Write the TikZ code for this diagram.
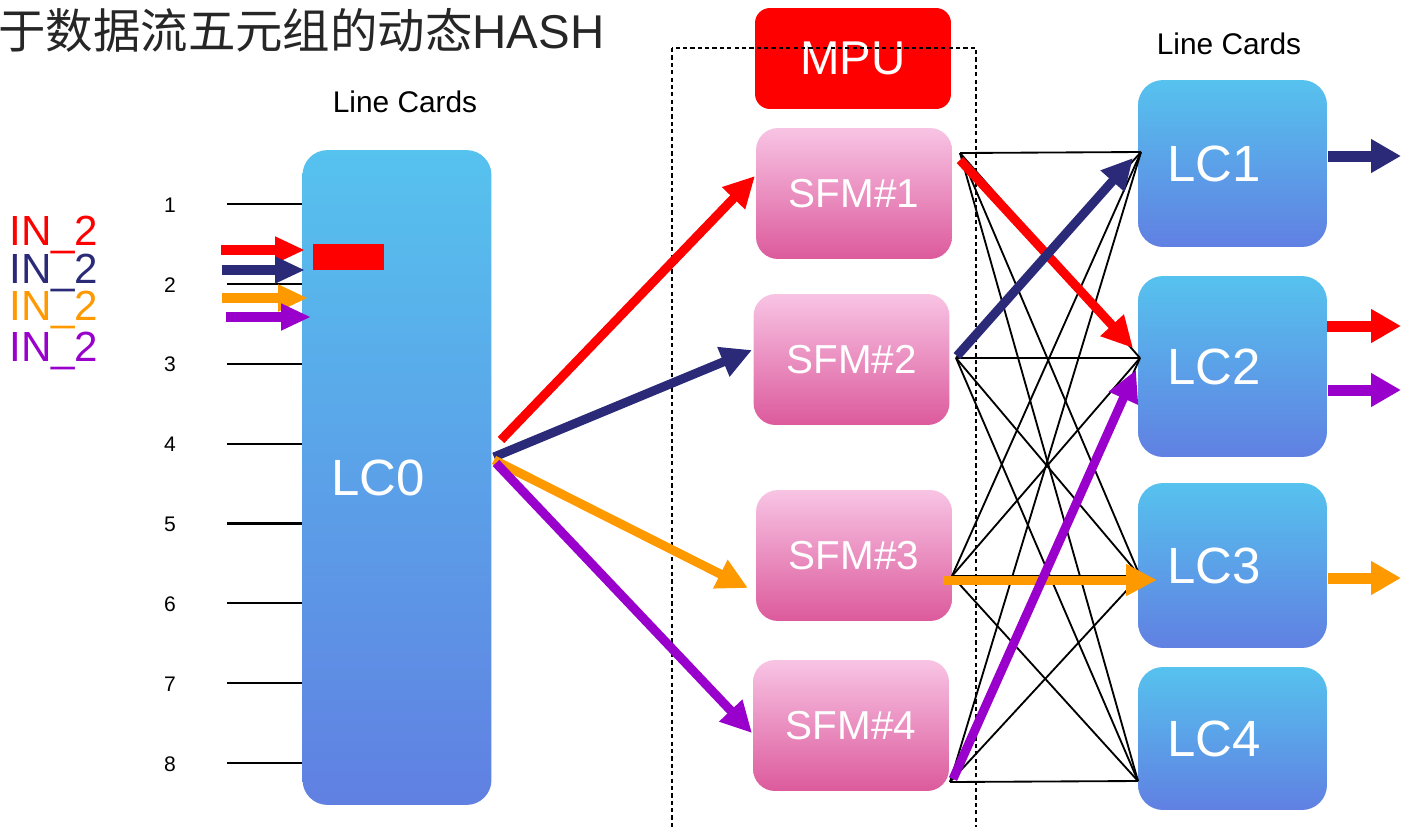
\documentclass[tikz,border=0pt]{standalone}
\usepackage{fontspec}
\setmainfont{Liberation Sans}
\newfontfamily\cjk{Noto Sans CJK SC}
\usepackage{tikz}
\usetikzlibrary{arrows.meta,positioning}

\definecolor{navyflow}{HTML}{2A2A78}
\definecolor{orangeflow}{HTML}{FF9900}
\definecolor{purpleflow}{HTML}{9900CC}
\definecolor{cardtop}{HTML}{56C2EE}
\definecolor{cardbot}{HTML}{6080E2}
\definecolor{sfmtop}{HTML}{F8C4E4}
\definecolor{sfmbot}{HTML}{DC5A9C}

\begin{document}
\begin{tikzpicture}[
    x=0.02cm, y=-0.02cm,
    card/.style={rectangle, rounded corners=0.5cm, top color=cardtop, bottom color=cardbot, minimum width=3.78cm, inner xsep=0.58cm, text width=2.62cm, align=left, text=white, font=\fontsize{29pt}{32pt}\selectfont},
    sfm/.style={rectangle, rounded corners=0.44cm, top color=sfmtop, bottom color=sfmbot, minimum width=3.92cm, minimum height=2.62cm, text=white, font=\fontsize{23pt}{26pt}\selectfont},
    mpu/.style={rectangle, rounded corners=0.3cm, fill=red, minimum width=3.92cm, minimum height=2.02cm, text=white, font=\fontsize{27pt}{30pt}\selectfont},
    heading/.style={font=\fontsize{17pt}{20pt}\selectfont},
    portnum/.style={font=\fontsize{12pt}{14pt}\selectfont},
    inlabel/.style={anchor=base west, inner sep=0, font=\fontsize{24pt}{26pt}\selectfont},
    port/.style={line width=1.2pt},
    mesh/.style={line width=1.05pt},
    flow/.style={line width=0.18cm, -{Triangle[length=0.62cm, width=0.6cm]}},
    outflow/.style={line width=0.22cm, -{Triangle[length=0.6cm, width=0.64cm]}},
    inflow/.style={line width=0.2cm, -{Triangle[length=0.6cm, width=0.5cm]}},
]
    \useasboundingbox (0,0) rectangle (1401,826);

    \node[anchor=west, inner sep=0, text=black!85, font=\fontsize{27pt}{30pt}\selectfont] (title) at (-2,30) {{\cjk 于数据流五元组的动态}HASH};

    \node[card, minimum height=13.1cm] (lc0) at (397,477.5) {LC0};
    \node[mpu] (mpu) at (853,58.5) {MPU};
    \node[sfm] (sfm1) at (854,193.5) {SFM\#1};
    \node[sfm] (sfm2) at (851.5,359.5) {SFM\#2};
    \node[sfm] (sfm3) at (854,555.5) {SFM\#3};
    \node[sfm] (sfm4) at (851,725.5) {SFM\#4};
    \node[card, minimum height=3.34cm] (lc1) at (1232.5,163.5) {LC1};
    \node[card, minimum height=3.62cm] (lc2) at (1232.5,366.5) {LC2};
    \node[card, minimum height=3.3cm] (lc3) at (1232.5,565.5) {LC3};
    \node[card, minimum height=2.86cm] (lc4) at (1232.5,738.5) {LC4};

    \node[heading] (cards0) at (405,102) {Line Cards};
    \node[heading] (cards1) at (1229,44) {Line Cards};

    \node[fill=red, inner sep=0, minimum width=1.42cm, minimum height=0.52cm] (hash) at (348.5,257) {};

    \foreach \i in {1,...,8} {
        \coordinate (p\i) at (227,124+79.9*\i);
        \node[portnum] (n\i) at (170,125+79.9*\i) {\i};
        \draw[port] (p\i) -- (p\i -| lc0.west);
    }

    \node[inlabel, text=red] (in1) at (9,245) {IN\_2};
    \node[inlabel, text=navyflow] (in2) at (9,283) {IN\_2};
    \node[inlabel, text=orangeflow] (in3) at (9,320) {IN\_2};
    \node[inlabel, text=purpleflow] (in4) at (9,361) {IN\_2};

    \coordinate (s1) at (960,153);
    \coordinate (s2) at (956,358);
    \coordinate (s3) at (952,576);
    \coordinate (s4) at (950,782);
    \coordinate (t1) at (1141,152);
    \coordinate (t2) at (1140,358);
    \coordinate (t3) at (1140,576);
    \coordinate (t4) at (1138,781);
    \foreach \i in {1,...,4}
        \foreach \j in {1,...,4}
            \draw[mesh] (s\i) -- (t\j);

    \draw[dashed, line width=0.6pt, dash pattern=on 2.4pt off 1.8pt] (672,48) rectangle (976,840);

    \draw[inflow, red] (221,250) -- (305,250);
    \draw[inflow, navyflow] (222,270) -- (305,270);
    \draw[inflow, orangeflow] (222,298) -- (308,298);
    \draw[inflow, purpleflow] (226,317) -- (311,317);

    \coordinate (fr) at (501,440);
    \coordinate (fn) at (494,457);
    \coordinate (fo) at (494,460);
    \coordinate (fp) at (496,463);
    \draw[flow, red] (fr) -- (755,176);
    \draw[flow, navyflow] (fn) -- (752,350);
    \draw[flow, orangeflow] (fo) -- (748,588);
    \draw[flow, purpleflow] (fp) -- (752,733);

    \draw[flow, red] (960,160) -- (1133,348);
    \draw[flow, navyflow] (957,356) -- (1133,158);
    \draw[flow, orangeflow] (943,580) -- (1157,580);
    \draw[flow, purpleflow] (953,779) -- (1136,370);

    \draw[outflow, navyflow] (1328,156) -- (1401,156);
    \draw[outflow, red] (1327,326) -- (1401,326);
    \draw[outflow, purpleflow] (1328,390) -- (1401,390);
    \draw[outflow, orangeflow] (1328,578) -- (1401,578);
\end{tikzpicture}
\end{document}
